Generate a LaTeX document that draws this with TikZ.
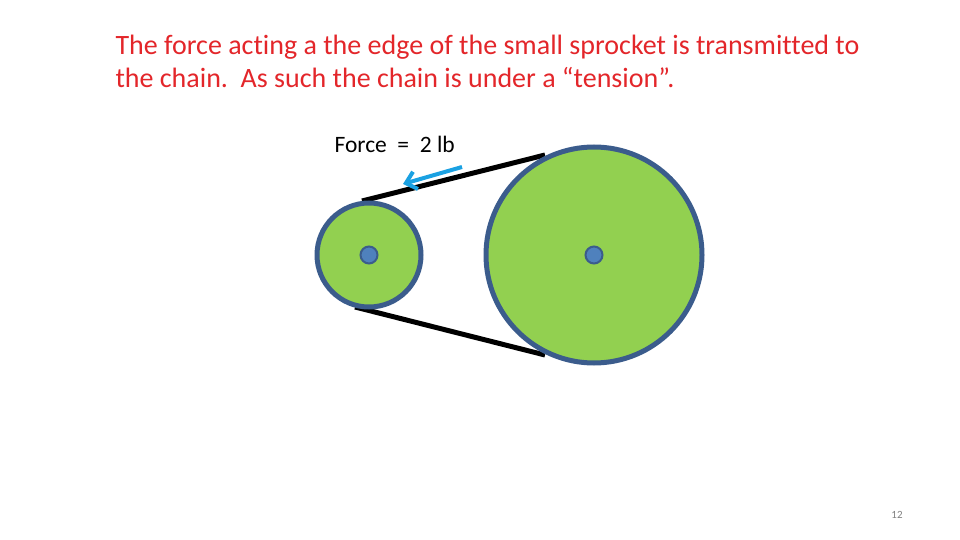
\documentclass[tikz,border=0pt]{standalone}
\usepackage{fontspec}
\setmainfont{Carlito}[Ligatures={NoCommon,NoRare}]
\usetikzlibrary{arrows.meta}
\definecolor{gfill}{HTML}{92D050}
\definecolor{gborder}{HTML}{3B5C8C}
\definecolor{hub}{HTML}{4F81BD}
\definecolor{ttl}{HTML}{E3262A}
\definecolor{arr}{HTML}{1BA1E2}
\tikzset{sprocket/.style={circle,fill=gfill,draw=gborder,line width=5pt,inner sep=0pt},
 hubst/.style={circle,fill=hub,draw=gborder,line width=2pt,minimum size=17pt,inner sep=0pt},
 chain/.style={line width=5pt,black}}
\begin{document}
\begin{tikzpicture}[x=1pt,y=-1pt]
\useasboundingbox (0,0) rectangle (960,540);
\coordinate (t1) at (362,201); \coordinate (t2) at (545,155);
\coordinate (b1) at (355,307); \coordinate (b2) at (545,355);
\draw[chain] (t1) -- (t2);
\draw[chain] (b1) -- (b2);
\node[sprocket,minimum size=104pt] (small) at (369,255) {};
\node[sprocket,minimum size=216pt] (big) at (594,255) {};
\node[hubst] (h1) at (369,255) {};
\node[hubst] (h2) at (594,255) {};
\node[anchor=west,font=\fontsize{28}{33}\selectfont,text=ttl,align=left] (title) at (112,61)
 {The force acting a the edge of the small sprocket is transmitted to\\the chain.\ \ As such the chain is under a “tension”.};
\node[anchor=west,font=\fontsize{23.5}{24}\selectfont] (force) at (331,144) {Force\ \ =\ \ 2 lb};
\coordinate (a1) at (462,167); \coordinate (a2) at (403,184);
\draw[arr,line width=4pt,-{Straight Barb[length=10pt,width=18pt]}] (a1) -- (a2);
\node[font=\fontsize{11}{13}\selectfont,text=gray] (pg) at (897,515) {12};
\end{tikzpicture}
\end{document}
